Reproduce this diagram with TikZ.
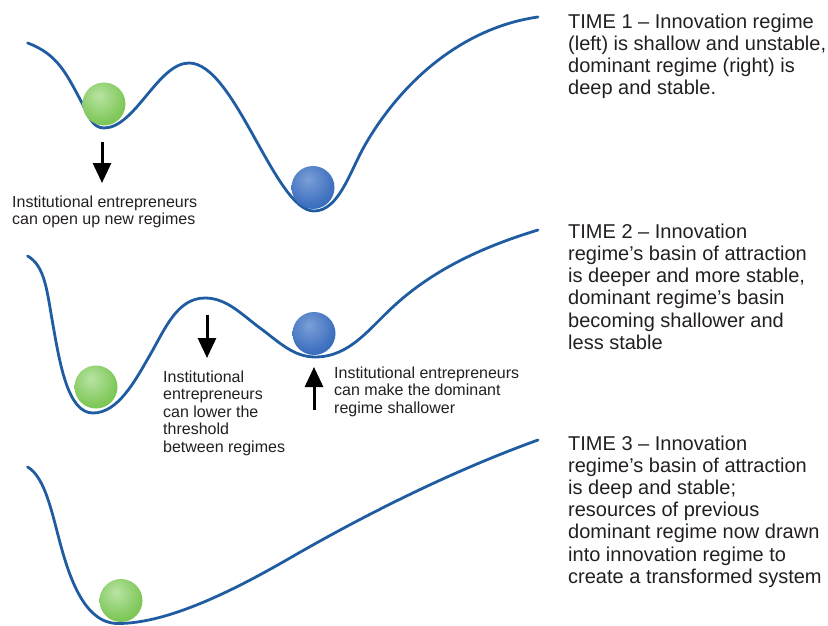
\documentclass[tikz,border=0pt]{standalone}
\usepackage{fontspec}
\setmainfont{Liberation Sans}
\usetikzlibrary{arrows.meta}
\definecolor{curveblue}{RGB}{32,92,162}
\definecolor{txt}{RGB}{35,31,32}
\definecolor{ghi}{RGB}{185,228,165}
\definecolor{gmid}{RGB}{128,200,90}
\definecolor{gedge}{RGB}{98,178,62}
\definecolor{bhi}{RGB}{125,160,215}
\definecolor{bmid}{RGB}{62,112,192}
\definecolor{bedge}{RGB}{32,86,170}
\pgfdeclareradialshading{gball}{\pgfpoint{-6bp}{10bp}}{color(0bp)=(ghi); color(8bp)=(ghi!70!gmid); color(28bp)=(gmid); color(62bp)=(gedge); color(100bp)=(gedge)}
\pgfdeclareradialshading{bball}{\pgfpoint{-6bp}{10bp}}{color(0bp)=(bhi); color(8bp)=(bhi!70!bmid); color(28bp)=(bmid); color(62bp)=(bedge); color(100bp)=(bedge)}
\tikzset{
  landscape/.style={draw=curveblue, line width=2.8pt, line cap=round},
  greenball/.style={circle, inner sep=0pt, minimum size=43pt, shade, shading=gball},
  blueball/.style={circle, inner sep=0pt, minimum size=43pt, shade, shading=bball},
  arr/.style={draw=black, line width=3pt, -{Triangle[width=18pt,length=20pt]}},
  smalltext/.style={anchor=base west, inner sep=0pt, text=txt, font=\fontsize{16}{17.6}\selectfont},
  bigtext/.style={anchor=base west, inner sep=0pt, text=txt, font=\fontsize{20}{22.2}\selectfont},
}
\begin{document}
\begin{tikzpicture}[x=1pt,y=1pt]
\useasboundingbox (0,0) rectangle (828,-626);
% curve 1
\draw[landscape] (27.6,-43) .. controls (57.7,-53.9) and (67,-74.8) .. (82,-103)
  .. controls (88.6,-115.3) and (92,-128) .. (104,-128)
  .. controls (135,-128) and (158,-63) .. (189,-63)
  .. controls (235,-63) and (275,-211) .. (314,-211)
  .. controls (339,-211) and (350,-171) .. (365,-145)
  .. controls (402.5,-80) and (463.7,-27.5) .. (538,-17);
% curve 2
\draw[landscape] (27.6,-256) .. controls (45,-266) and (46.9,-290.5) .. (53,-325)
  .. controls (60,-364.4) and (68,-413) .. (93,-413)
  .. controls (118,-413) and (135,-381) .. (150,-355)
  .. controls (165,-329) and (177,-298) .. (205,-298)
  .. controls (227,-298) and (242.2,-315) .. (260,-328)
  .. controls (277.8,-341) and (293,-357) .. (315,-357)
  .. controls (350,-357) and (369,-328.5) .. (395,-305)
  .. controls (435.7,-268) and (485.4,-246) .. (538,-230);
% curve 3
\draw[landscape] (27.6,-467) .. controls (43.3,-476) and (50.5,-506) .. (58,-535)
  .. controls (68,-573.7) and (83,-623.5) .. (118,-623.5)
  .. controls (168,-623.5) and (233.7,-590.5) .. (290,-558)
  .. controls (368,-513) and (453.4,-470.6) .. (538,-440);
% balls
\node[greenball] (g1) at (104,-104) {};
\node[blueball] (b1) at (313,-187.5) {};
\node[greenball] (g2) at (96,-387) {};
\node[blueball] (b2) at (314,-333.5) {};
\node[greenball] (g3) at (121,-600.5) {};
% arrows
\coordinate (a1s) at (102,-142);
\coordinate (a1e) at (102,-183);
\draw[arr] (a1s) -- (a1e);
\coordinate (a2s) at (207,-315);
\coordinate (a2e) at (207,-358);
\draw[arr] (a2s) -- (a2e);
\coordinate (a3s) at (314,-410);
\coordinate (a3e) at (314,-367);
\draw[arr] (a3s) -- (a3e);
% small texts
\node[smalltext] (t1) at (12,-207) {\vtop{\hbox{Institutional entrepreneurs}\hbox{can open up new regimes}}};
\node[smalltext] (t2) at (163,-382) {\vtop{\hbox{Institutional}\hbox{entrepreneurs}\hbox{can lower the}\hbox{threshold}\hbox{between regimes}}};
\node[smalltext] (t3) at (334,-378) {\vtop{\hbox{Institutional entrepreneurs}\hbox{can make the dominant}\hbox{regime shallower}}};
% big texts
\node[bigtext] (time1) at (568,-28.3) {\vtop{\hbox{TIME 1 – Innovation regime}\hbox{(left) is shallow and unstable,}\hbox{dominant regime (right) is}\hbox{deep and stable.}}};
\node[bigtext] (time2) at (568,-238.3) {\vtop{\hbox{TIME 2 – Innovation}\hbox{regime’s basin of attraction}\hbox{is deeper and more stable,}\hbox{dominant regime’s basin}\hbox{becoming shallower and}\hbox{less stable}}};
\node[bigtext] (time3) at (568,-450) {\vtop{\hbox{TIME 3 – Innovation}\hbox{regime’s basin of attraction}\hbox{is deep and stable;}\hbox{resources of previous}\hbox{dominant regime now drawn}\hbox{into innovation regime to}\hbox{create a transformed system}}};
\end{tikzpicture}
\end{document}
